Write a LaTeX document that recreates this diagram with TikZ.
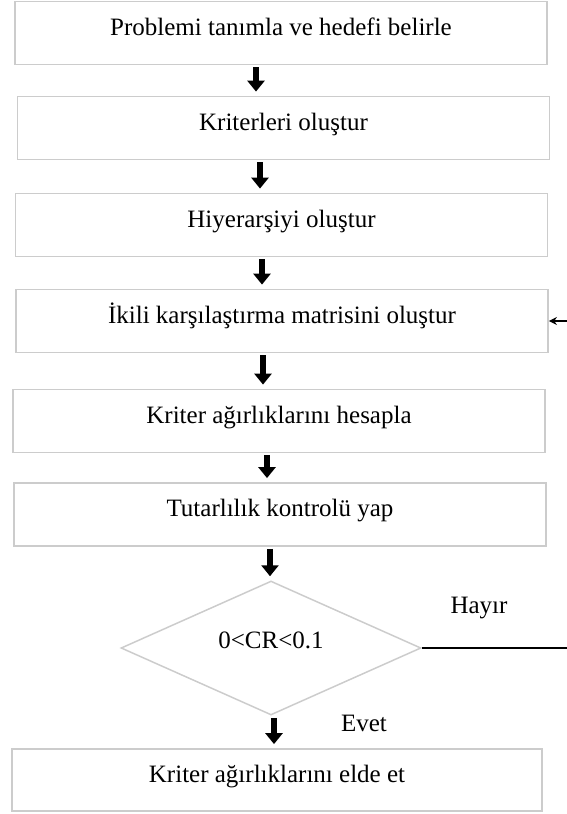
\documentclass[tikz,border=0pt]{standalone}
\usepackage{fontspec}
\setmainfont{Liberation Serif}
\usetikzlibrary{shapes.geometric,arrows.meta}

\begin{document}
\begin{tikzpicture}[x=1pt,y=-1pt,
    stepbox/.style={draw=black!20,line width=1.8pt,minimum width=532pt,minimum height=63pt,
      text height=20pt,text depth=16pt,inner sep=0pt},
    checkbox/.style={diamond,draw=black!20,line width=1.5pt,minimum width=300pt,minimum height=134pt,
      aspect=2.24,text height=10pt,text depth=10pt,inner sep=0pt},
    bigarrow/.style={line width=5.5pt,-{Triangle[width=17pt,length=11pt]},shorten <=2pt,shorten >=4pt},
    backline/.style={line width=1.3pt,-{Stealth[length=8pt,width=8pt]}},
    font=\fontsize{25}{30}\selectfont]
        \useasboundingbox (0,0) rectangle (567,814);
        \clip (0,0) rectangle (567,814);
        % boxes
        \node[stepbox] (b1) at (281,33) {Problemi tanımla ve hedefi belirle};
        \node[stepbox] (b2) at (283.5,128) {Kriterleri oluştur};
        \node[stepbox] (b3) at (281.5,225) {Hiyerarşiyi oluştur};
        \node[stepbox] (b4) at (282,321) {İkili karşılaştırma matrisini oluştur};
        \node[stepbox] (b5) at (279,421) {Kriter ağırlıklarını hesapla};
        \node[stepbox] (b6) at (280,514.5) {Tutarlılık kontrolü yap};
        \node[stepbox,minimum width=530pt,minimum height=62pt] (b7) at (277,780) {Kriter ağırlıklarını elde et};
        % decision
        \node[checkbox] (d) at (271,648) {0<CR<0.1};
        \node (hayir) at (479,608) {Hayır};
        \node (evet) at (364,723) {Evet};
        % arrows
        \draw[bigarrow] ([xshift=-25pt]b1.south) -- ([xshift=-25pt]b1.south |- b2.north);
        \draw[bigarrow] ([xshift=-23.5pt]b2.south) -- ([xshift=-23.5pt]b2.south |- b3.north);
        \draw[bigarrow] ([xshift=-19.5pt]b3.south) -- ([xshift=-19.5pt]b3.south |- b4.north);
        \draw[bigarrow] ([xshift=-19pt]b4.south) -- ([xshift=-19pt]b4.south |- b5.north);
        \draw[bigarrow] ([xshift=-12pt]b5.south) -- ([xshift=-12pt]b5.south |- b6.north);
        \draw[bigarrow] ([xshift=-10pt]b6.south) -- ([xshift=-10pt]b6.south |- d.north);
        \draw[bigarrow] ([xshift=3pt]d.south) -- ([xshift=3pt]d.south |- b7.north);
        % back to the matrix
        \coordinate (fb) at (580,0);
        \draw[backline] (d.east) -- (d.east -| fb) -- (b4.east -| fb) -- (b4.east);
\end{tikzpicture}
\end{document}
